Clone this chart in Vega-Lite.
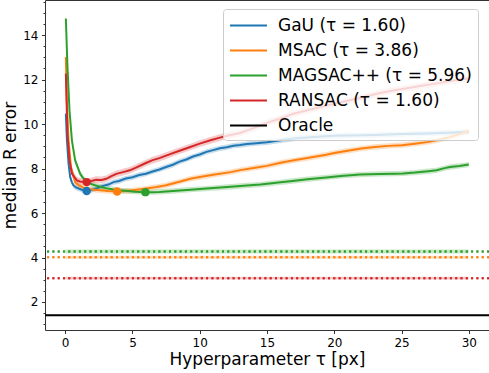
{
  "$schema": "https://vega.github.io/schema/vega-lite/v6.json",
  "width": 444,
  "height": 330,
  "autosize": {"type": "none"},
  "padding": {"left": 45, "top": 0, "right": 0, "bottom": 43},
  "background": "white",
  "config": {
    "view": {"stroke": "#333333", "strokeWidth": 1},
    "font": "DejaVu Sans",
    "axis": {"grid": false, "domain": false, "tickColor": "#333333", "labelColor": "#000000", "titleColor": "#000000", "labelFont": "DejaVu Sans", "titleFont": "DejaVu Sans", "titleFontWeight": "normal", "labelFontSize": 12, "titleFontSize": 17},
    "legend": {"symbolOpacity": 1, "symbolStrokeWidth": 2}
  },
  "datasets": {
    "curves": [
      {"s":"GaU","t":0.05,"v":10.47,"lo":10.17,"hi":10.77},{"s":"GaU","t":0.13,"v":9.27,"lo":9.02,"hi":9.52},{"s":"GaU","t":0.25,"v":8.22,"lo":8.02,"hi":8.42},{"s":"GaU","t":0.37,"v":7.62,"lo":7.47,"hi":7.77},{"s":"GaU","t":0.5,"v":7.38,"lo":7.26,"hi":7.5},{"s":"GaU","t":0.62,"v":7.24,"lo":7.12,"hi":7.36},{"s":"GaU","t":0.8,"v":7.15,"lo":7.03,"hi":7.27},{"s":"GaU","t":1.1,"v":7.08,"lo":6.96,"hi":7.2},{"s":"GaU","t":1.3,"v":7.03,"lo":6.91,"hi":7.15},{"s":"GaU","t":1.6,"v":6.99,"lo":6.87,"hi":7.11},{"s":"GaU","t":1.9,"v":7.03,"lo":6.91,"hi":7.15},{"s":"GaU","t":2.3,"v":7.1,"lo":6.98,"hi":7.22},{"s":"GaU","t":2.8,"v":7.22,"lo":7.1,"hi":7.34},{"s":"GaU","t":3.2,"v":7.28,"lo":7.16,"hi":7.4},{"s":"GaU","t":3.6,"v":7.39,"lo":7.27,"hi":7.51},{"s":"GaU","t":4.0,"v":7.44,"lo":7.32,"hi":7.56},{"s":"GaU","t":4.5,"v":7.55,"lo":7.43,"hi":7.67},{"s":"GaU","t":5.0,"v":7.61,"lo":7.49,"hi":7.73},{"s":"GaU","t":5.5,"v":7.71,"lo":7.59,"hi":7.83},{"s":"GaU","t":6.0,"v":7.77,"lo":7.65,"hi":7.89},{"s":"GaU","t":6.5,"v":7.87,"lo":7.75,"hi":7.99},{"s":"GaU","t":7.0,"v":7.96,"lo":7.84,"hi":8.08},{"s":"GaU","t":7.5,"v":8.07,"lo":7.95,"hi":8.19},{"s":"GaU","t":8.0,"v":8.17,"lo":8.05,"hi":8.29},{"s":"GaU","t":8.5,"v":8.31,"lo":8.19,"hi":8.43},{"s":"GaU","t":9.0,"v":8.41,"lo":8.29,"hi":8.53},{"s":"GaU","t":9.5,"v":8.54,"lo":8.42,"hi":8.66},{"s":"GaU","t":10,"v":8.63,"lo":8.51,"hi":8.75},{"s":"GaU","t":10.5,"v":8.75,"lo":8.63,"hi":8.87},{"s":"GaU","t":11,"v":8.83,"lo":8.71,"hi":8.95},{"s":"GaU","t":11.5,"v":8.91,"lo":8.79,"hi":9.03},{"s":"GaU","t":12,"v":8.96,"lo":8.84,"hi":9.08},{"s":"GaU","t":12.5,"v":9.03,"lo":8.91,"hi":9.15},{"s":"GaU","t":13,"v":9.06,"lo":8.94,"hi":9.18},{"s":"GaU","t":13.5,"v":9.1,"lo":8.98,"hi":9.22},{"s":"GaU","t":14,"v":9.13,"lo":9.01,"hi":9.25},{"s":"GaU","t":15,"v":9.18,"lo":9.06,"hi":9.3},{"s":"GaU","t":16,"v":9.27,"lo":9.15,"hi":9.39},{"s":"GaU","t":17,"v":9.35,"lo":9.23,"hi":9.47},{"s":"GaU","t":18,"v":9.4,"lo":9.28,"hi":9.52},{"s":"GaU","t":19,"v":9.44,"lo":9.32,"hi":9.56},{"s":"GaU","t":20,"v":9.47,"lo":9.35,"hi":9.59},{"s":"GaU","t":21,"v":9.49,"lo":9.37,"hi":9.61},{"s":"GaU","t":22,"v":9.5,"lo":9.38,"hi":9.62},{"s":"GaU","t":23,"v":9.51,"lo":9.39,"hi":9.63},{"s":"GaU","t":24,"v":9.53,"lo":9.41,"hi":9.65},{"s":"GaU","t":25,"v":9.55,"lo":9.43,"hi":9.67},{"s":"GaU","t":26,"v":9.57,"lo":9.45,"hi":9.69},{"s":"GaU","t":27,"v":9.58,"lo":9.46,"hi":9.7},{"s":"GaU","t":28,"v":9.6,"lo":9.48,"hi":9.72},{"s":"GaU","t":29,"v":9.62,"lo":9.5,"hi":9.74},{"s":"GaU","t":30,"v":9.64,"lo":9.52,"hi":9.76},

      {"s":"MSAC","t":0.05,"v":13.02,"lo":12.7,"hi":13.34},{"s":"MSAC","t":0.12,"v":11.0,"lo":10.7,"hi":11.3},{"s":"MSAC","t":0.25,"v":9.27,"lo":9.02,"hi":9.52},{"s":"MSAC","t":0.43,"v":8.07,"lo":7.87,"hi":8.27},{"s":"MSAC","t":0.74,"v":7.39,"lo":7.25,"hi":7.53},{"s":"MSAC","t":1.0,"v":7.25,"lo":7.13,"hi":7.37},{"s":"MSAC","t":1.36,"v":7.14,"lo":7.02,"hi":7.26},{"s":"MSAC","t":1.8,"v":7.07,"lo":6.95,"hi":7.19},{"s":"MSAC","t":2.6,"v":7.02,"lo":6.9,"hi":7.14},{"s":"MSAC","t":3.2,"v":6.99,"lo":6.87,"hi":7.11},{"s":"MSAC","t":3.86,"v":6.97,"lo":6.85,"hi":7.09},{"s":"MSAC","t":4.5,"v":6.99,"lo":6.87,"hi":7.11},{"s":"MSAC","t":5.0,"v":7.02,"lo":6.9,"hi":7.14},{"s":"MSAC","t":5.5,"v":7.06,"lo":6.94,"hi":7.18},{"s":"MSAC","t":6.0,"v":7.1,"lo":6.98,"hi":7.22},{"s":"MSAC","t":6.8,"v":7.17,"lo":7.05,"hi":7.29},{"s":"MSAC","t":7.5,"v":7.25,"lo":7.13,"hi":7.37},{"s":"MSAC","t":8.0,"v":7.33,"lo":7.21,"hi":7.45},{"s":"MSAC","t":8.5,"v":7.41,"lo":7.29,"hi":7.53},{"s":"MSAC","t":9.3,"v":7.54,"lo":7.42,"hi":7.66},{"s":"MSAC","t":10,"v":7.62,"lo":7.5,"hi":7.74},{"s":"MSAC","t":11,"v":7.72,"lo":7.6,"hi":7.84},{"s":"MSAC","t":12.3,"v":7.84,"lo":7.72,"hi":7.96},{"s":"MSAC","t":13,"v":7.93,"lo":7.81,"hi":8.05},{"s":"MSAC","t":14,"v":8.03,"lo":7.91,"hi":8.15},{"s":"MSAC","t":15,"v":8.12,"lo":8.0,"hi":8.24},{"s":"MSAC","t":16,"v":8.26,"lo":8.14,"hi":8.38},{"s":"MSAC","t":17,"v":8.37,"lo":8.25,"hi":8.49},{"s":"MSAC","t":18,"v":8.47,"lo":8.35,"hi":8.59},{"s":"MSAC","t":19.4,"v":8.62,"lo":8.5,"hi":8.74},{"s":"MSAC","t":20,"v":8.7,"lo":8.58,"hi":8.82},{"s":"MSAC","t":21,"v":8.8,"lo":8.68,"hi":8.92},{"s":"MSAC","t":22,"v":8.9,"lo":8.78,"hi":9.02},{"s":"MSAC","t":23,"v":8.97,"lo":8.85,"hi":9.09},{"s":"MSAC","t":24,"v":9.02,"lo":8.9,"hi":9.14},{"s":"MSAC","t":25,"v":9.05,"lo":8.93,"hi":9.17},{"s":"MSAC","t":26,"v":9.12,"lo":9.0,"hi":9.24},{"s":"MSAC","t":27,"v":9.2,"lo":9.08,"hi":9.32},{"s":"MSAC","t":27.6,"v":9.27,"lo":9.15,"hi":9.39},{"s":"MSAC","t":28.5,"v":9.4,"lo":9.28,"hi":9.52},{"s":"MSAC","t":29.3,"v":9.55,"lo":9.43,"hi":9.67},{"s":"MSAC","t":30,"v":9.7,"lo":9.58,"hi":9.82},

      {"s":"MAGSAC++","t":0.05,"v":14.75,"lo":14.6,"hi":14.9},{"s":"MAGSAC++","t":0.17,"v":12.57,"lo":12.37,"hi":12.77},{"s":"MAGSAC++","t":0.32,"v":10.62,"lo":10.42,"hi":10.82},{"s":"MAGSAC++","t":0.5,"v":9.27,"lo":9.1,"hi":9.44},{"s":"MAGSAC++","t":0.74,"v":8.37,"lo":8.22,"hi":8.52},{"s":"MAGSAC++","t":1.11,"v":7.77,"lo":7.64,"hi":7.9},{"s":"MAGSAC++","t":1.3,"v":7.6,"lo":7.48,"hi":7.72},{"s":"MAGSAC++","t":1.6,"v":7.42,"lo":7.3,"hi":7.54},{"s":"MAGSAC++","t":2.0,"v":7.29,"lo":7.17,"hi":7.41},{"s":"MAGSAC++","t":2.6,"v":7.18,"lo":7.06,"hi":7.3},{"s":"MAGSAC++","t":3.0,"v":7.12,"lo":7.0,"hi":7.24},{"s":"MAGSAC++","t":3.8,"v":7.04,"lo":6.92,"hi":7.16},{"s":"MAGSAC++","t":4.5,"v":7.0,"lo":6.88,"hi":7.12},{"s":"MAGSAC++","t":5.2,"v":6.96,"lo":6.84,"hi":7.08},{"s":"MAGSAC++","t":5.96,"v":6.94,"lo":6.82,"hi":7.06},{"s":"MAGSAC++","t":6.5,"v":6.94,"lo":6.82,"hi":7.06},{"s":"MAGSAC++","t":7.0,"v":6.95,"lo":6.83,"hi":7.07},{"s":"MAGSAC++","t":8.0,"v":6.99,"lo":6.87,"hi":7.11},{"s":"MAGSAC++","t":9.3,"v":7.05,"lo":6.93,"hi":7.17},{"s":"MAGSAC++","t":10.5,"v":7.1,"lo":6.98,"hi":7.22},{"s":"MAGSAC++","t":12.3,"v":7.18,"lo":7.06,"hi":7.3},{"s":"MAGSAC++","t":13.5,"v":7.24,"lo":7.12,"hi":7.36},{"s":"MAGSAC++","t":14.5,"v":7.28,"lo":7.16,"hi":7.4},{"s":"MAGSAC++","t":15.2,"v":7.33,"lo":7.21,"hi":7.45},{"s":"MAGSAC++","t":16,"v":7.38,"lo":7.26,"hi":7.5},{"s":"MAGSAC++","t":16.9,"v":7.44,"lo":7.32,"hi":7.56},{"s":"MAGSAC++","t":18,"v":7.52,"lo":7.4,"hi":7.64},{"s":"MAGSAC++","t":19.4,"v":7.6,"lo":7.48,"hi":7.72},{"s":"MAGSAC++","t":20.5,"v":7.67,"lo":7.55,"hi":7.79},{"s":"MAGSAC++","t":21.9,"v":7.73,"lo":7.61,"hi":7.85},{"s":"MAGSAC++","t":23.4,"v":7.76,"lo":7.64,"hi":7.88},{"s":"MAGSAC++","t":24.5,"v":7.77,"lo":7.65,"hi":7.89},{"s":"MAGSAC++","t":25.1,"v":7.78,"lo":7.66,"hi":7.9},{"s":"MAGSAC++","t":26,"v":7.82,"lo":7.7,"hi":7.94},{"s":"MAGSAC++","t":27,"v":7.88,"lo":7.76,"hi":8.0},{"s":"MAGSAC++","t":27.6,"v":7.92,"lo":7.8,"hi":8.04},{"s":"MAGSAC++","t":28.2,"v":8.02,"lo":7.9,"hi":8.14},{"s":"MAGSAC++","t":28.6,"v":8.07,"lo":7.95,"hi":8.19},{"s":"MAGSAC++","t":29.3,"v":8.12,"lo":8.0,"hi":8.24},{"s":"MAGSAC++","t":30,"v":8.18,"lo":8.06,"hi":8.3},

      {"s":"RANSAC","t":0.05,"v":12.27,"lo":11.97,"hi":12.57},{"s":"RANSAC","t":0.17,"v":9.57,"lo":9.32,"hi":9.82},{"s":"RANSAC","t":0.32,"v":8.37,"lo":8.17,"hi":8.57},{"s":"RANSAC","t":0.5,"v":7.77,"lo":7.6,"hi":7.94},{"s":"RANSAC","t":0.87,"v":7.47,"lo":7.32,"hi":7.62},{"s":"RANSAC","t":1.1,"v":7.42,"lo":7.27,"hi":7.57},{"s":"RANSAC","t":1.6,"v":7.39,"lo":7.24,"hi":7.54},{"s":"RANSAC","t":2.0,"v":7.45,"lo":7.3,"hi":7.6},{"s":"RANSAC","t":2.3,"v":7.5,"lo":7.35,"hi":7.65},{"s":"RANSAC","t":2.7,"v":7.49,"lo":7.34,"hi":7.64},{"s":"RANSAC","t":3.05,"v":7.54,"lo":7.39,"hi":7.69},{"s":"RANSAC","t":3.4,"v":7.65,"lo":7.5,"hi":7.8},{"s":"RANSAC","t":3.8,"v":7.76,"lo":7.61,"hi":7.91},{"s":"RANSAC","t":4.3,"v":7.84,"lo":7.69,"hi":7.99},{"s":"RANSAC","t":4.8,"v":7.92,"lo":7.77,"hi":8.07},{"s":"RANSAC","t":5.3,"v":8.05,"lo":7.9,"hi":8.2},{"s":"RANSAC","t":6.0,"v":8.25,"lo":8.1,"hi":8.4},{"s":"RANSAC","t":6.5,"v":8.38,"lo":8.23,"hi":8.53},{"s":"RANSAC","t":7.0,"v":8.47,"lo":8.32,"hi":8.62},{"s":"RANSAC","t":7.8,"v":8.65,"lo":8.5,"hi":8.8},{"s":"RANSAC","t":8.5,"v":8.8,"lo":8.65,"hi":8.95},{"s":"RANSAC","t":9.3,"v":8.97,"lo":8.82,"hi":9.12},{"s":"RANSAC","t":10,"v":9.12,"lo":8.97,"hi":9.27},{"s":"RANSAC","t":10.8,"v":9.27,"lo":9.12,"hi":9.42},{"s":"RANSAC","t":11.5,"v":9.39,"lo":9.24,"hi":9.54},{"s":"RANSAC","t":12.2,"v":9.5,"lo":9.35,"hi":9.65},{"s":"RANSAC","t":13,"v":9.6,"lo":9.45,"hi":9.75},{"s":"RANSAC","t":13.7,"v":9.75,"lo":9.6,"hi":9.9},{"s":"RANSAC","t":14.5,"v":9.93,"lo":9.78,"hi":10.08},{"s":"RANSAC","t":15.2,"v":10.1,"lo":9.95,"hi":10.25},{"s":"RANSAC","t":16,"v":10.25,"lo":10.1,"hi":10.4},{"s":"RANSAC","t":16.9,"v":10.45,"lo":10.3,"hi":10.6},{"s":"RANSAC","t":18,"v":10.62,"lo":10.47,"hi":10.77},{"s":"RANSAC","t":19.4,"v":10.83,"lo":10.68,"hi":10.98},{"s":"RANSAC","t":20.5,"v":10.98,"lo":10.83,"hi":11.13},{"s":"RANSAC","t":21.9,"v":11.17,"lo":11.02,"hi":11.32},{"s":"RANSAC","t":23.4,"v":11.4,"lo":11.25,"hi":11.55},{"s":"RANSAC","t":24.5,"v":11.52,"lo":11.37,"hi":11.67},{"s":"RANSAC","t":25.5,"v":11.62,"lo":11.47,"hi":11.77},{"s":"RANSAC","t":26.5,"v":11.72,"lo":11.57,"hi":11.87},{"s":"RANSAC","t":27.5,"v":11.82,"lo":11.67,"hi":11.97},{"s":"RANSAC","t":28.5,"v":11.92,"lo":11.77,"hi":12.07},{"s":"RANSAC","t":29.3,"v":12.0,"lo":11.85,"hi":12.15},{"s":"RANSAC","t":30,"v":12.05,"lo":11.9,"hi":12.2}
    ],
    "minima": [
      {"s":"GaU","t":1.6,"v":6.99},
      {"s":"MSAC","t":3.86,"v":6.97},
      {"s":"MAGSAC++","t":5.96,"v":6.94},
      {"s":"RANSAC","t":1.6,"v":7.39}
    ],
    "consts": [
      {"s":"MSAC","t":0,"v":4.01,"lo":3.94,"hi":4.08},{"s":"MSAC","t":30,"v":4.01,"lo":3.94,"hi":4.08},
      {"s":"MAGSAC++","t":0,"v":4.27,"lo":4.18,"hi":4.36},{"s":"MAGSAC++","t":30,"v":4.27,"lo":4.18,"hi":4.36},
      {"s":"RANSAC","t":0,"v":3.07,"lo":3.01,"hi":3.13},{"s":"RANSAC","t":30,"v":3.07,"lo":3.01,"hi":3.13}
    ],
    "oracle": [
      {"s":"Oracle","v":1.4}
    ]
  },
  "encoding": {
    "x": {"field": "t", "type": "quantitative", "scale": {"domain": [-1.5, 31.5], "nice": false, "zero": false},
      "axis": {"title": "Hyperparameter τ [px]", "values": [0,5,10,15,20,25,30], "format": "d", "tickSize": 3.5, "labelPadding": 4, "titlePadding": 3}},
    "y": {"field": "v", "type": "quantitative", "scale": {"domain": [0.74, 15.58], "nice": false, "zero": false},
      "axis": {"title": "median R error", "values": [1,1.5,2,2.5,3,3.5,4,4.5,5,5.5,6,6.5,7,7.5,8,8.5,9,9.5,10,10.5,11,11.5,12,12.5,13,13.5,14,14.5,15,15.5],
        "labelExpr": "datum.value % 2 === 0 ? format(datum.value, 'd') : ''",
        "tickSize": {"condition": {"test": "datum.value % 2 === 0", "value": 3.5}, "value": 2},
        "labelPadding": 3.5, "titlePadding": 3}},
    "color": {"field": "s", "type": "nominal",
      "scale": {"domain": ["GaU","MSAC","MAGSAC++","RANSAC","Oracle"], "range": ["#1f77b4","#ff7f0e","#2ca02c","#d62728","#000000"]},
      "legend": {"title": null, "orient": "none", "legendX": 178, "legendY": 9, "padding": 6,
        "fillColor": "rgba(255,255,255,0.8)", "strokeColor": "#cccccc", "cornerRadius": 3,
        "labelFontSize": 17, "labelFont": "DejaVu Sans", "labelColor": "#000000", "labelOffset": 19, "labelLimit": 400,
        "symbolType": "M-2,0H2", "symbolSize": 342, "symbolStrokeWidth": 2, "symbolOpacity": 1, "symbolOffset": 9, "rowPadding": 6,
        "labelExpr": "datum.value === 'GaU' ? 'GaU (τ = 1.60)' : datum.value === 'MSAC' ? 'MSAC (τ = 3.86)' : datum.value === 'MAGSAC++' ? 'MAGSAC++ (τ = 5.96)' : datum.value === 'RANSAC' ? 'RANSAC (τ = 1.60)' : 'Oracle'"}}
  },
  "layer": [
    {"data": {"name": "consts"}, "mark": {"type": "area", "opacity": 0.25},
      "encoding": {"y": {"field": "lo", "type": "quantitative"}, "y2": {"field": "hi"}}},
    {"data": {"name": "consts"}, "mark": {"type": "rule", "strokeWidth": 2, "strokeDash": [2, 3.3]},
      "encoding": {"x": null}},
    {"data": {"name": "oracle"}, "mark": {"type": "rule", "strokeWidth": 2},
      "encoding": {"x": null}},
    {"data": {"name": "curves"}, "mark": {"type": "area", "opacity": 0.25},
      "encoding": {"y": {"field": "lo", "type": "quantitative"}, "y2": {"field": "hi"}}},
    {"data": {"name": "curves"}, "mark": {"type": "line", "strokeWidth": 2}},
    {"data": {"name": "minima"}, "mark": {"type": "circle", "size": 72, "opacity": 1}}
  ]
}
